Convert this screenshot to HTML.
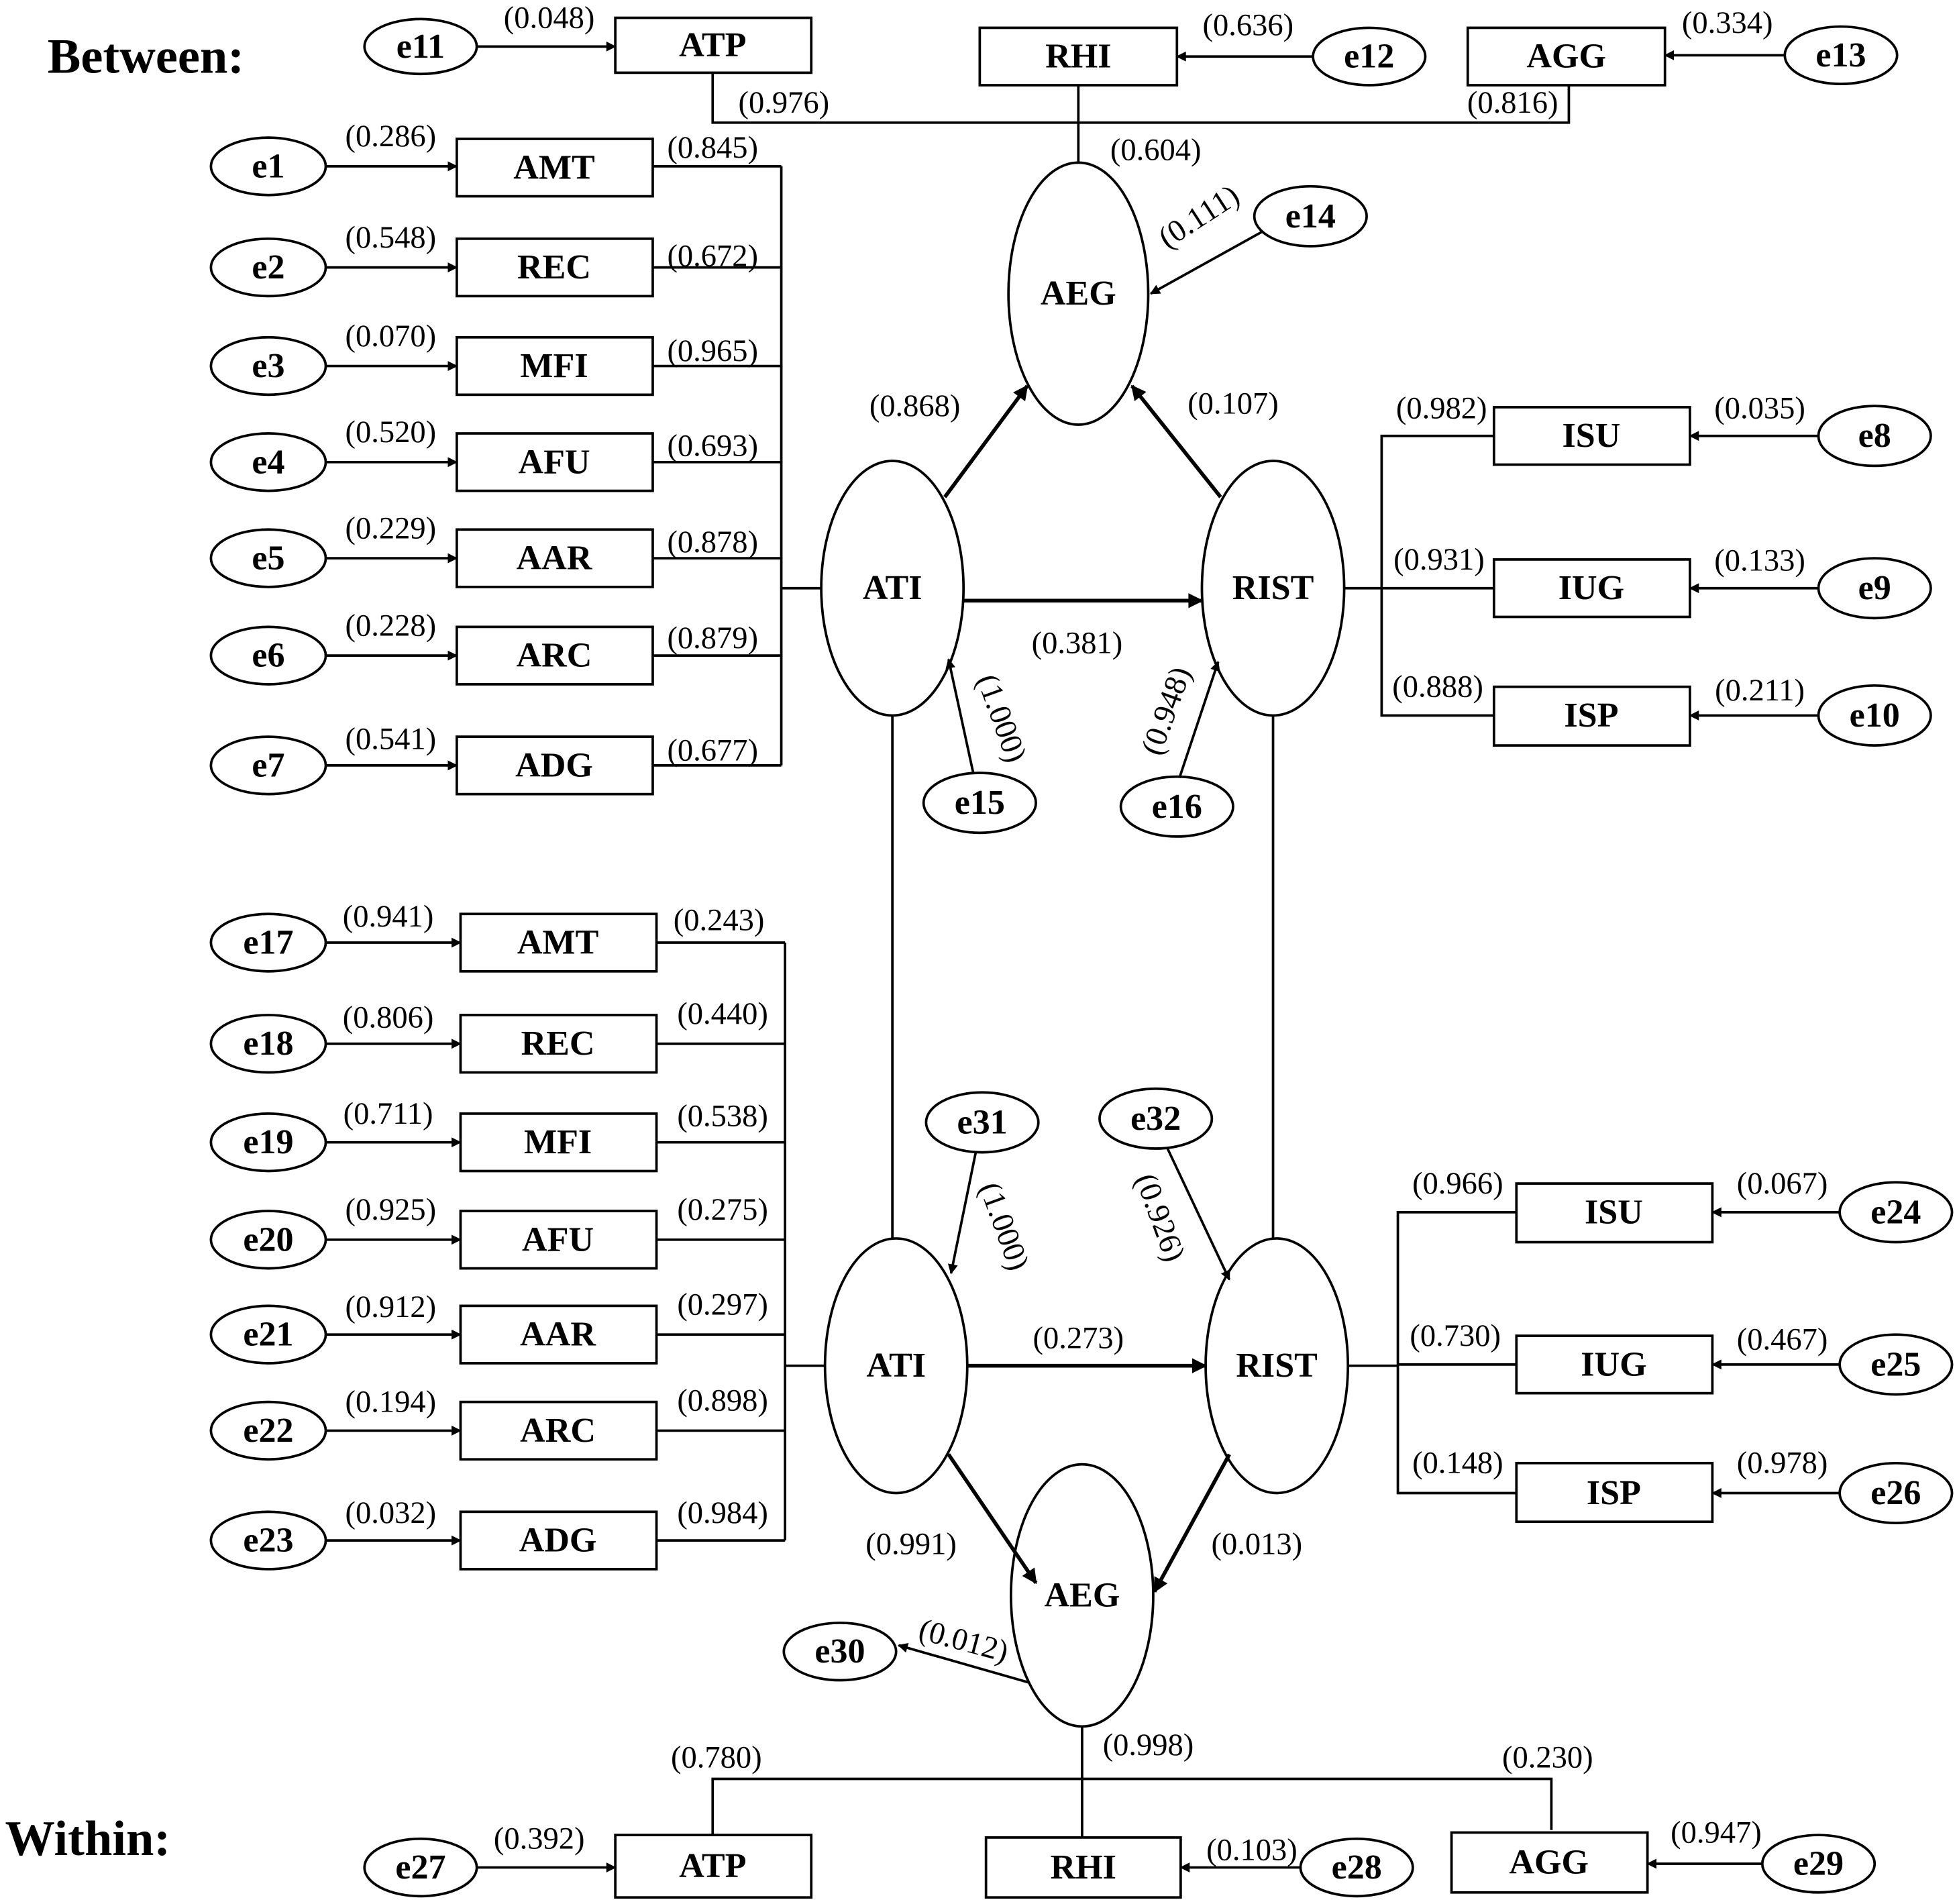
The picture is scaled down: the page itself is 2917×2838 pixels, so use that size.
<!DOCTYPE html>
<html><head><meta charset="utf-8"><style>html,body{margin:0;padding:0;background:#fff}svg{display:block}</style></head><body>
<svg width="2917" height="2838" viewBox="0 0 1568 1525" xmlns="http://www.w3.org/2000/svg" font-family="Liberation Serif, serif">
<defs><marker id="a" viewBox="0 0 10 10" refX="9" refY="5" markerWidth="9" markerHeight="8" markerUnits="userSpaceOnUse" orient="auto"><path d="M0,0L10,5L0,10z" fill="#000"/></marker>
<marker id="b" viewBox="0 0 10 10" refX="9" refY="5" markerWidth="13" markerHeight="12" markerUnits="userSpaceOnUse" orient="auto"><path d="M0,0L10,5L0,10z" fill="#000"/></marker></defs>
<g stroke="#000" stroke-width="2" fill="#fff">
<rect x="493" y="14" width="157" height="44"/><rect x="785" y="22" width="158" height="46"/><rect x="1176" y="22" width="158" height="46"/>
<ellipse cx="337" cy="37" rx="45" ry="22"/><ellipse cx="1097" cy="45" rx="45" ry="23"/><ellipse cx="1475" cy="44" rx="45" ry="23"/>
<ellipse cx="864" cy="235" rx="56" ry="105"/><ellipse cx="1050" cy="173" rx="45" ry="24"/>
<ellipse cx="715" cy="471" rx="57" ry="102"/><ellipse cx="1020" cy="471" rx="57" ry="102"/>
<ellipse cx="785" cy="643" rx="45" ry="24"/><ellipse cx="943" cy="646" rx="45" ry="24"/>
<rect x="1197" y="326" width="157" height="46"/><rect x="1197" y="448" width="157" height="46"/><rect x="1197" y="550" width="157" height="47"/>
<ellipse cx="1502" cy="349" rx="45" ry="24"/><ellipse cx="1502" cy="471" rx="45" ry="24"/><ellipse cx="1502" cy="573" rx="45" ry="24"/>
<ellipse cx="718" cy="1094" rx="57" ry="102"/><ellipse cx="1023" cy="1094" rx="57" ry="102"/>
<ellipse cx="787" cy="899" rx="45" ry="24"/><ellipse cx="926" cy="896" rx="45" ry="24"/>
<rect x="1215" y="948" width="157" height="47"/><rect x="1215" y="1070" width="157" height="46"/><rect x="1215" y="1172" width="157" height="47"/>
<ellipse cx="1519" cy="971" rx="45" ry="24"/><ellipse cx="1519" cy="1093" rx="45" ry="24"/><ellipse cx="1519" cy="1196" rx="45" ry="24"/>
<ellipse cx="867" cy="1278" rx="57" ry="105"/><ellipse cx="673" cy="1323" rx="45" ry="23"/>
<rect x="493" y="1470" width="157" height="50"/><rect x="790" y="1472" width="156" height="48"/><rect x="1163" y="1468" width="157" height="48"/>
<ellipse cx="337" cy="1496" rx="45" ry="23"/><ellipse cx="1087" cy="1496" rx="45" ry="23"/><ellipse cx="1457" cy="1493" rx="45" ry="23"/>
</g>
<g stroke="#000" stroke-width="2" fill="none">
<line x1="382" y1="37" x2="493" y2="37" marker-end="url(#a)"/>
<line x1="1052" y1="45" x2="943" y2="45" marker-end="url(#a)"/>
<line x1="1430" y1="44" x2="1334" y2="44" marker-end="url(#a)"/>
<polyline points="571,58 571,98 1257,98 1257,68"/>
<line x1="864" y1="68" x2="864" y2="130"/>
<line x1="1012" y1="185" x2="922" y2="235" marker-end="url(#a)"/>
<line x1="626" y1="133" x2="626" y2="613"/>
<line x1="626" y1="471" x2="658" y2="471"/>
<line x1="1077" y1="471" x2="1107" y2="471"/>
<polyline points="1197,349 1107,349 1107,573 1197,573"/>
<line x1="1107" y1="471" x2="1197" y2="471"/>
<line x1="1457" y1="349" x2="1354" y2="349" marker-end="url(#a)"/>
<line x1="1457" y1="471" x2="1354" y2="471" marker-end="url(#a)"/>
<line x1="1457" y1="573" x2="1354" y2="573" marker-end="url(#a)"/>
<line x1="772" y1="481" x2="963" y2="481" stroke-width="3" marker-end="url(#b)"/>
<line x1="757" y1="398" x2="823" y2="309" stroke-width="3" marker-end="url(#b)"/>
<line x1="978" y1="398" x2="907" y2="309" stroke-width="3" marker-end="url(#b)"/>
<line x1="780" y1="620" x2="760" y2="528" marker-end="url(#a)"/>
<line x1="945" y1="623" x2="976" y2="530" marker-end="url(#a)"/>
<line x1="715" y1="573" x2="715" y2="992"/>
<line x1="1020" y1="573" x2="1020" y2="992"/>
<line x1="629" y1="755" x2="629" y2="1234"/>
<line x1="629" y1="1094" x2="661" y2="1094"/>
<line x1="775" y1="1094" x2="966" y2="1094" stroke-width="3" marker-end="url(#b)"/>
<line x1="782" y1="922" x2="762" y2="1020" marker-end="url(#a)"/>
<line x1="935" y1="919" x2="985" y2="1025" marker-end="url(#a)"/>
<line x1="1080" y1="1094" x2="1120" y2="1094"/>
<polyline points="1215,971 1120,971 1120,1196 1215,1196"/>
<line x1="1120" y1="1093" x2="1215" y2="1093"/>
<line x1="1474" y1="971" x2="1372" y2="971" marker-end="url(#a)"/>
<line x1="1474" y1="1093" x2="1372" y2="1093" marker-end="url(#a)"/>
<line x1="1474" y1="1196" x2="1372" y2="1196" marker-end="url(#a)"/>
<line x1="760" y1="1165" x2="830" y2="1268" stroke-width="3" marker-end="url(#b)"/>
<line x1="985" y1="1165" x2="925" y2="1275" stroke-width="3" marker-end="url(#b)"/>
<line x1="825" y1="1348" x2="720" y2="1318" marker-end="url(#a)"/>
<line x1="867" y1="1383" x2="867" y2="1472"/>
<polyline points="571,1470 571,1425 1243,1425 1243,1466"/>
<line x1="382" y1="1496" x2="493" y2="1496" marker-end="url(#a)"/>
<line x1="1042" y1="1496" x2="946" y2="1496" marker-end="url(#a)"/>
<line x1="1412" y1="1493" x2="1320" y2="1493" marker-end="url(#a)"/>
</g>
<g font-weight="bold" font-size="28" text-anchor="middle" dominant-baseline="central">
<text x="571" y="36">ATP</text><text x="864" y="45">RHI</text><text x="1255" y="45">AGG</text>
<text x="337" y="37">e11</text><text x="1097" y="45">e12</text><text x="1475" y="44">e13</text>
<text x="864" y="235">AEG</text><text x="1050" y="173">e14</text>
<text x="715" y="471">ATI</text><text x="1020" y="471">RIST</text>
<text x="785" y="643">e15</text><text x="943" y="646">e16</text>
<text x="1275" y="349">ISU</text><text x="1275" y="471">IUG</text><text x="1275" y="573">ISP</text>
<text x="1502" y="349">e8</text><text x="1502" y="471">e9</text><text x="1502" y="573">e10</text>
<text x="718" y="1094">ATI</text><text x="1023" y="1094">RIST</text>
<text x="787" y="899">e31</text><text x="926" y="896">e32</text>
<text x="1293" y="971">ISU</text><text x="1293" y="1093">IUG</text><text x="1293" y="1196">ISP</text>
<text x="1519" y="971">e24</text><text x="1519" y="1093">e25</text><text x="1519" y="1196">e26</text>
<text x="867" y="1278">AEG</text><text x="673" y="1323">e30</text>
<text x="571" y="1495">ATP</text><text x="868" y="1496">RHI</text><text x="1241" y="1492">AGG</text>
<text x="337" y="1496">e27</text><text x="1087" y="1496">e28</text><text x="1457" y="1493">e29</text>
</g>
<g font-weight="bold" font-size="40"><text x="38" y="58">Between:</text><text x="4" y="1486">Within:</text></g>
<g font-size="25" text-anchor="middle">
<text x="440" y="22">(0.048)</text><text x="1000" y="28">(0.636)</text><text x="1384" y="26">(0.334)</text>
<text x="628" y="90">(0.976)</text><text x="1212" y="90">(0.816)</text><text x="926" y="128">(0.604)</text>
<text transform="translate(965,180) rotate(-33)">(0.111)</text>
<text x="733" y="333">(0.868)</text><text x="988" y="331">(0.107)</text><text x="863" y="523">(0.381)</text>
<text transform="translate(795,578) rotate(70)">(1.000)</text>
<text transform="translate(942,572) rotate(-70)">(0.948)</text>
<text x="1155" y="335">(0.982)</text><text x="1153" y="456">(0.931)</text><text x="1152" y="558">(0.888)</text>
<text x="1410" y="335">(0.035)</text><text x="1410" y="457">(0.133)</text><text x="1410" y="561">(0.211)</text>
<text x="864" y="1080">(0.273)</text>
<text transform="translate(797,985) rotate(70)">(1.000)</text>
<text transform="translate(922,978) rotate(70)">(0.926)</text>
<text x="1168" y="956">(0.966)</text><text x="1166" y="1078">(0.730)</text><text x="1168" y="1180">(0.148)</text>
<text x="1428" y="956">(0.067)</text><text x="1428" y="1081">(0.467)</text><text x="1428" y="1180">(0.978)</text>
<text x="730" y="1245">(0.991)</text><text x="1007" y="1245">(0.013)</text>
<text transform="translate(770,1322) rotate(15)">(0.012)</text>
<text x="574" y="1416">(0.780)</text><text x="920" y="1406">(0.998)</text><text x="1240" y="1416">(0.230)</text>
<text x="432" y="1481">(0.392)</text><text x="1003" y="1490">(0.103)</text><text x="1375" y="1476">(0.947)</text>
</g>
<g>
<g stroke="#000" stroke-width="2" fill="none">
<line x1="523" y1="133" x2="626" y2="133"/><line x1="523" y1="214" x2="626" y2="214"/><line x1="523" y1="293" x2="626" y2="293"/><line x1="523" y1="370" x2="626" y2="370"/><line x1="523" y1="447" x2="626" y2="447"/><line x1="523" y1="525" x2="626" y2="525"/><line x1="523" y1="613" x2="626" y2="613"/>
<line x1="526" y1="755" x2="629" y2="755"/><line x1="526" y1="836" x2="629" y2="836"/><line x1="526" y1="915" x2="629" y2="915"/><line x1="526" y1="993" x2="629" y2="993"/><line x1="526" y1="1069" x2="629" y2="1069"/><line x1="526" y1="1146" x2="629" y2="1146"/><line x1="526" y1="1234" x2="629" y2="1234"/>
<g marker-end="url(#a)">
<line x1="261" y1="133" x2="366" y2="133"/><line x1="261" y1="214" x2="366" y2="214"/><line x1="261" y1="293" x2="366" y2="293"/><line x1="261" y1="370" x2="366" y2="370"/><line x1="261" y1="447" x2="366" y2="447"/><line x1="261" y1="525" x2="366" y2="525"/><line x1="261" y1="613" x2="366" y2="613"/>
<line x1="261" y1="755" x2="369" y2="755"/><line x1="261" y1="836" x2="369" y2="836"/><line x1="261" y1="915" x2="369" y2="915"/><line x1="261" y1="993" x2="369" y2="993"/><line x1="261" y1="1069" x2="369" y2="1069"/><line x1="261" y1="1146" x2="369" y2="1146"/><line x1="261" y1="1234" x2="369" y2="1234"/>
</g></g>
<g stroke="#000" stroke-width="2" fill="#fff">
<rect x="366" y="111" width="157" height="46"/><rect x="366" y="191" width="157" height="46"/><rect x="366" y="270" width="157" height="46"/><rect x="366" y="347" width="157" height="46"/><rect x="366" y="424" width="157" height="46"/><rect x="366" y="502" width="157" height="46"/><rect x="366" y="590" width="157" height="46"/>
<rect x="369" y="732" width="157" height="46"/><rect x="369" y="813" width="157" height="46"/><rect x="369" y="892" width="157" height="46"/><rect x="369" y="970" width="157" height="46"/><rect x="369" y="1046" width="157" height="46"/><rect x="369" y="1123" width="157" height="46"/><rect x="369" y="1211" width="157" height="46"/>
<ellipse cx="215" cy="133" rx="46" ry="23"/><ellipse cx="215" cy="214" rx="46" ry="23"/><ellipse cx="215" cy="293" rx="46" ry="23"/><ellipse cx="215" cy="370" rx="46" ry="23"/><ellipse cx="215" cy="447" rx="46" ry="23"/><ellipse cx="215" cy="525" rx="46" ry="23"/><ellipse cx="215" cy="613" rx="46" ry="23"/>
<ellipse cx="215" cy="755" rx="46" ry="23"/><ellipse cx="215" cy="836" rx="46" ry="23"/><ellipse cx="215" cy="915" rx="46" ry="23"/><ellipse cx="215" cy="993" rx="46" ry="23"/><ellipse cx="215" cy="1069" rx="46" ry="23"/><ellipse cx="215" cy="1146" rx="46" ry="23"/><ellipse cx="215" cy="1234" rx="46" ry="23"/>
</g>
<g font-weight="bold" font-size="28" text-anchor="middle" dominant-baseline="central">
<text x="444" y="134">AMT</text><text x="444" y="214">REC</text><text x="444" y="293">MFI</text><text x="444" y="370">AFU</text><text x="444" y="447">AAR</text><text x="444" y="525">ARC</text><text x="444" y="613">ADG</text>
<text x="447" y="755">AMT</text><text x="447" y="836">REC</text><text x="447" y="915">MFI</text><text x="447" y="993">AFU</text><text x="447" y="1069">AAR</text><text x="447" y="1146">ARC</text><text x="447" y="1234">ADG</text>
<text x="215" y="133">e1</text><text x="215" y="214">e2</text><text x="215" y="293">e3</text><text x="215" y="370">e4</text><text x="215" y="447">e5</text><text x="215" y="525">e6</text><text x="215" y="613">e7</text>
<text x="215" y="755">e17</text><text x="215" y="836">e18</text><text x="215" y="915">e19</text><text x="215" y="993">e20</text><text x="215" y="1069">e21</text><text x="215" y="1146">e22</text><text x="215" y="1234">e23</text>
</g>
<g font-size="25" text-anchor="middle">
<text x="313" y="117">(0.286)</text><text x="313" y="198">(0.548)</text><text x="313" y="277">(0.070)</text><text x="313" y="354">(0.520)</text><text x="313" y="431">(0.229)</text><text x="313" y="509">(0.228)</text><text x="313" y="600">(0.541)</text>
<text x="571" y="126">(0.845)</text><text x="571" y="213">(0.672)</text><text x="571" y="289">(0.965)</text><text x="571" y="365">(0.693)</text><text x="571" y="442">(0.878)</text><text x="571" y="519">(0.879)</text><text x="571" y="609">(0.677)</text>
<text x="311" y="742">(0.941)</text><text x="311" y="823">(0.806)</text><text x="311" y="900">(0.711)</text><text x="313" y="977">(0.925)</text><text x="313" y="1055">(0.912)</text><text x="313" y="1131">(0.194)</text><text x="313" y="1220">(0.032)</text>
<text x="576" y="745">(0.243)</text><text x="579" y="820">(0.440)</text><text x="579" y="902">(0.538)</text><text x="579" y="977">(0.275)</text><text x="579" y="1053">(0.297)</text><text x="579" y="1130">(0.898)</text><text x="579" y="1220">(0.984)</text>
</g>
</g>
</svg>
</body></html>
